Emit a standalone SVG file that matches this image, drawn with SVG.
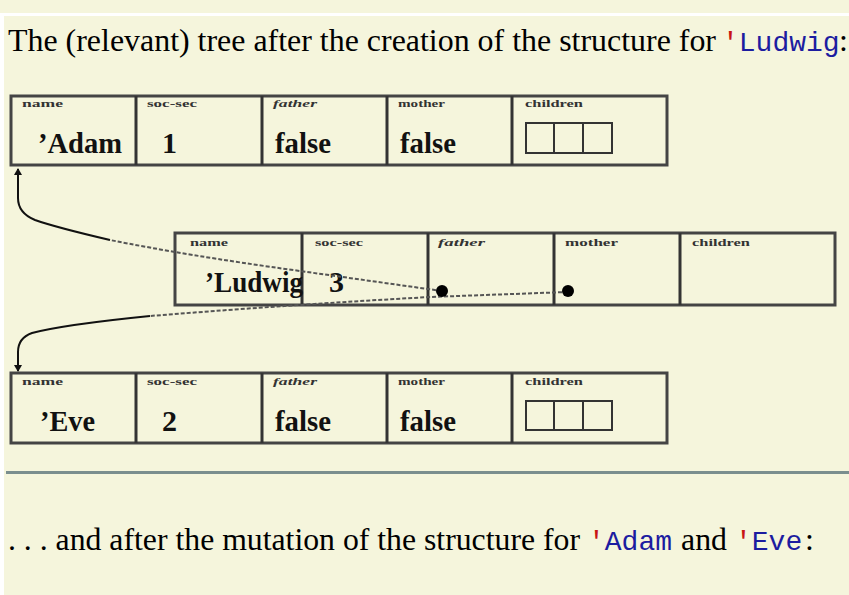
<svg xmlns="http://www.w3.org/2000/svg" width="849" height="595" viewBox="0 0 849 595">
<style>
.ser{font-family:"Liberation Serif","Times New Roman",serif;fill:#000}
.mono{font-family:"Liberation Mono","Courier New",monospace}
.q{fill:#c81414}
.id{fill:#1c1ca0}
.lbl{font-family:"Liberation Serif",serif;font-size:10px;font-weight:bold;fill:#333}
.val{font-family:"Liberation Serif",serif;font-size:30px;font-weight:bold;fill:#111}
.box{fill:#f5f5dc;stroke:#444;stroke-width:3}
.div{stroke:#333;stroke-width:3}
.mini{fill:none;stroke:#333;stroke-width:2}
.ptr{fill:none;stroke:#555;stroke-width:2;stroke-dasharray:4 2}
.ptrs{fill:none;stroke:#111;stroke-width:2}
</style>
<defs>
<marker id="ah" markerWidth="8" markerHeight="8" refX="6" refY="4" orient="auto" markerUnits="userSpaceOnUse">
<path d="M0,0 L7,4 L0,8 Z" fill="#111"/>
</marker>
</defs>
<rect x="0" y="0" width="849" height="595" fill="#f5f5dc"/>
<rect x="0" y="13" width="849" height="3" fill="#ffffff"/>
<rect x="0" y="13" width="4" height="582" fill="#ffffff"/>

<g id="title">
<text class="ser" x="8" y="51" font-size="32" textLength="708" lengthAdjust="spacingAndGlyphs">The (relevant) tree after the creation of the structure for</text>
<text class="mono" x="722" y="51" font-size="28"><tspan class="q">'</tspan><tspan class="id">Ludwig</tspan></text>
<text class="ser" x="839" y="51" font-size="32">:</text>
</g>

<g id="adam">
<rect class="box" x="11" y="96" width="656" height="69"/>
<line class="div" x1="136" y1="96" x2="136" y2="165"/>
<line class="div" x1="262" y1="96" x2="262" y2="165"/>
<line class="div" x1="387" y1="96" x2="387" y2="165"/>
<line class="div" x1="512" y1="96" x2="512" y2="165"/>
<text class="lbl" x="22" y="107" textLength="41" lengthAdjust="spacingAndGlyphs">name</text>
<text class="lbl" x="147" y="107" textLength="50" lengthAdjust="spacingAndGlyphs">soc-sec</text>
<text class="lbl" x="273" y="107" textLength="44" lengthAdjust="spacingAndGlyphs" font-style="italic">father</text>
<text class="lbl" x="398" y="107" textLength="47" lengthAdjust="spacingAndGlyphs">mother</text>
<text class="lbl" x="525" y="107" textLength="58" lengthAdjust="spacingAndGlyphs">children</text>
<text class="val" x="38" y="153" textLength="84" lengthAdjust="spacingAndGlyphs">’Adam</text>
<text class="val" x="162" y="153">1</text>
<text class="val" x="275" y="153" textLength="56" lengthAdjust="spacingAndGlyphs">false</text>
<text class="val" x="400" y="153" textLength="56" lengthAdjust="spacingAndGlyphs">false</text>
<rect class="mini" x="526" y="123" width="86" height="30"/>
<line class="mini" x1="554" y1="123" x2="554" y2="153"/>
<line class="mini" x1="583" y1="123" x2="583" y2="153"/>
</g>

<g id="ludwig">
<rect class="box" x="175" y="233" width="660" height="72"/>
<line class="div" x1="302" y1="233" x2="302" y2="305"/>
<line class="div" x1="428" y1="233" x2="428" y2="305"/>
<line class="div" x1="554" y1="233" x2="554" y2="305"/>
<line class="div" x1="680" y1="233" x2="680" y2="305"/>
<text class="lbl" x="190" y="246" textLength="38" lengthAdjust="spacingAndGlyphs">name</text>
<text class="lbl" x="315" y="246" textLength="48" lengthAdjust="spacingAndGlyphs">soc-sec</text>
<text class="lbl" x="438" y="246" textLength="47" lengthAdjust="spacingAndGlyphs" font-style="italic">father</text>
<text class="lbl" x="565" y="246" textLength="53" lengthAdjust="spacingAndGlyphs">mother</text>
<text class="lbl" x="692" y="246" textLength="58" lengthAdjust="spacingAndGlyphs">children</text>
<text class="val" x="205" y="292" textLength="98" lengthAdjust="spacingAndGlyphs">’Ludwig</text>
<text class="val" x="329" y="292">3</text>
</g>

<g id="eve">
<rect class="box" x="11" y="373" width="656" height="70"/>
<line class="div" x1="136" y1="373" x2="136" y2="443"/>
<line class="div" x1="262" y1="373" x2="262" y2="443"/>
<line class="div" x1="387" y1="373" x2="387" y2="443"/>
<line class="div" x1="512" y1="373" x2="512" y2="443"/>
<text class="lbl" x="22" y="385" textLength="41" lengthAdjust="spacingAndGlyphs">name</text>
<text class="lbl" x="147" y="385" textLength="50" lengthAdjust="spacingAndGlyphs">soc-sec</text>
<text class="lbl" x="273" y="385" textLength="44" lengthAdjust="spacingAndGlyphs" font-style="italic">father</text>
<text class="lbl" x="398" y="385" textLength="47" lengthAdjust="spacingAndGlyphs">mother</text>
<text class="lbl" x="525" y="385" textLength="58" lengthAdjust="spacingAndGlyphs">children</text>
<text class="val" x="40" y="431" textLength="55" lengthAdjust="spacingAndGlyphs">’Eve</text>
<text class="val" x="162" y="431">2</text>
<text class="val" x="275" y="431" textLength="56" lengthAdjust="spacingAndGlyphs">false</text>
<text class="val" x="400" y="431" textLength="56" lengthAdjust="spacingAndGlyphs">false</text>
<rect class="mini" x="526" y="401" width="86" height="29"/>
<line class="mini" x1="554" y1="401" x2="554" y2="430"/>
<line class="mini" x1="583" y1="401" x2="583" y2="430"/>
</g>

<g id="connectors">
<path class="ptr" d="M442,291 L300,271 C220,260 160,250 110,240"/>
<path class="ptrs" d="M110,240 C80,233 55,227 35,220 Q18,213 18,198 L18,169" marker-end="url(#ah)"/>
<path class="ptr" d="M568,292 L430,297 C340,302 250,308 150,316"/>
<path class="ptrs" d="M150,316 C100,321 55,327 32,333 Q18,338 18,352 L18,371" marker-end="url(#ah)"/>
<circle cx="442" cy="291" r="6" fill="#000"/>
<circle cx="568" cy="291" r="6" fill="#000"/>
</g>

<rect x="6" y="471" width="843" height="3" fill="#7a8e8e"/>

<g id="caption">
<text class="ser" x="8" y="550" font-size="32" textLength="572" lengthAdjust="spacingAndGlyphs">. . . and after the mutation of the structure for</text>
<text class="mono" x="588" y="550" font-size="28"><tspan class="q">'</tspan><tspan class="id">Adam</tspan></text>
<text class="ser" x="681" y="550" font-size="32" textLength="46" lengthAdjust="spacingAndGlyphs">and</text>
<text class="mono" x="735" y="550" font-size="28"><tspan class="q">'</tspan><tspan class="id">Eve</tspan></text>
<text class="ser" x="805" y="550" font-size="32">:</text>
</g>
</svg>
